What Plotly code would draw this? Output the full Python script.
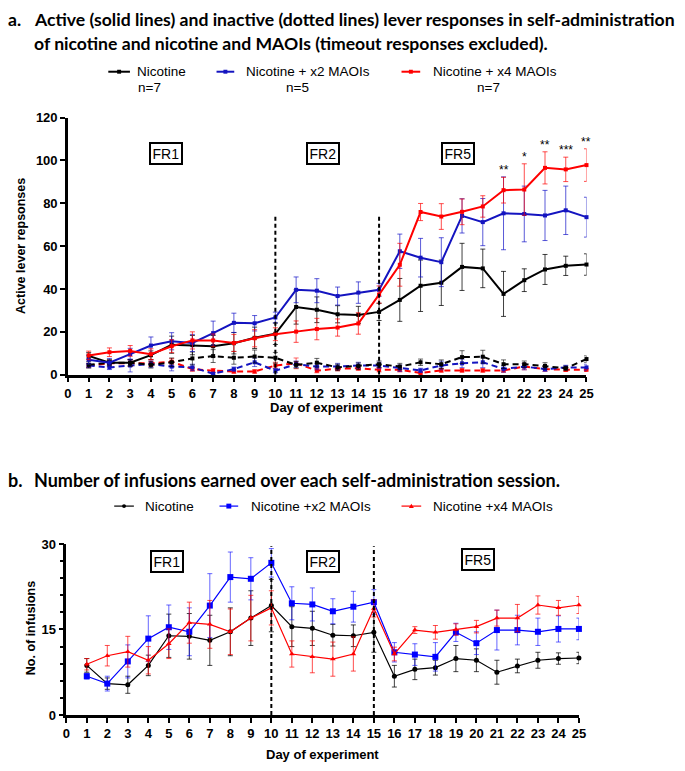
import plotly.graph_objects as go

# ---------------- data ----------------
days = list(range(1, 26))
series_names = ["Nicotine", "Nicotine + x2 MAOIs", "Nicotine + x4 MAOIs"]
series_n = ["n=7", "n=5", "n=7"]
series_names_b = ["Nicotine", "Nicotine +x2 MAOIs", "Nicotine +x4 MAOIs"]

# Panel a: active lever responses (mean, SEM)
a_nic_active = [8.8, 5.6, 5.6, 9.1, 14.0, 13.8, 13.3, 14.7, 17.2, 19.1, 31.6, 30.3, 28.2, 27.9, 29.3,
                34.9, 41.5, 42.9, 50.3, 49.6, 37.7, 44.1, 49.1, 50.8, 51.4]
a_nic_active_err = [1.5, 1.0, 1.5, 2.0, 4.0, 4.5, 5.0, 5.0, 5.0, 5.0, 8.0, 6.0, 4.0, 4.0, 4.0,
                    10.0, 12.0, 10.6, 11.0, 9.0, 10.5, 5.3, 7.0, 4.5, 5.0]
a_x2_active = [7.0, 5.6, 9.6, 13.6, 15.6, 14.8, 19.4, 24.2, 24.0, 26.7, 39.6, 39.2, 36.7, 38.3, 39.6,
               57.6, 54.6, 52.5, 74.1, 71.2, 75.3, 75.0, 74.3, 76.7, 73.5]
a_x2_active_err = [2.0, 2.0, 2.7, 4.0, 4.0, 4.0, 5.6, 4.5, 3.6, 2.5, 6.0, 5.6, 4.2, 5.0, 3.0,
                   8.0, 9.0, 11.4, 8.0, 11.0, 17.0, 13.0, 11.7, 11.3, 9.3]
a_x4_active = [9.0, 10.5, 11.1, 9.6, 13.3, 16.0, 16.0, 14.8, 17.0, 18.9, 20.1, 21.3, 22.0, 23.9, 37.4,
               51.3, 75.9, 73.8, 76.0, 78.5, 86.1, 86.4, 96.5, 95.8, 97.8]
a_x4_active_err = [2.0, 2.0, 2.5, 2.5, 3.0, 4.0, 3.0, 4.0, 4.0, 3.0, 5.0, 5.0, 4.0, 5.0, 4.0,
                   10.0, 4.0, 6.0, 6.0, 5.0, 6.0, 12.0, 7.5, 5.7, 7.6]

# Panel a: inactive lever responses (mean, SEM)
a_nic_inactive = [4.6, 5.6, 5.6, 4.6, 5.8, 7.6, 8.7, 7.9, 8.5, 7.9, 4.6, 5.6, 3.4, 4.0, 4.9,
                  3.8, 5.8, 4.9, 8.2, 8.4, 4.9, 4.9, 4.1, 3.0, 7.3]
a_nic_inactive_err = [1.5, 1.5, 1.5, 1.5, 2.0, 3.0, 3.0, 3.0, 3.0, 2.5, 1.5, 2.0, 1.5, 1.5, 1.5,
                      1.5, 1.5, 2.0, 3.0, 3.0, 2.0, 1.5, 1.5, 1.0, 1.5]
a_x2_inactive = [4.3, 3.4, 4.3, 4.9, 3.8, 3.4, 0.5, 2.6, 5.8, 1.9, 4.9, 3.8, 3.8, 4.3, 4.3,
                 3.0, 2.0, 4.3, 5.3, 5.8, 2.7, 3.8, 2.6, 3.4, 3.4]
a_x2_inactive_err = [1.0, 1.0, 3.0, 1.5, 2.0, 1.5, 0.5, 1.0, 2.0, 1.0, 1.5, 1.5, 1.5, 1.5, 1.5,
                     1.5, 1.0, 2.0, 2.0, 2.5, 1.5, 1.5, 1.0, 1.0, 1.5]
a_x4_inactive = [4.3, 5.3, 5.3, 5.3, 6.1, 2.6, 1.9, 1.5, 1.5, 4.3, 5.3, 1.9, 2.8, 3.0, 2.3,
                 2.3, 0.8, 2.0, 2.0, 2.0, 2.0, 3.8, 2.6, 2.3, 2.3]
a_x4_inactive_err = [1.0, 1.5, 1.5, 1.5, 1.5, 1.0, 1.0, 0.8, 0.8, 1.5, 2.5, 1.0, 1.0, 1.0, 1.0,
                     1.0, 0.5, 0.8, 0.8, 0.8, 0.8, 1.5, 1.0, 0.8, 0.8]

# significance markers (panel a, over the x4 group)
star_days = [21, 22, 23, 24, 25]
star_text = ["**", "*", "**", "***", "**"]

# Panel b: infusions earned (mean, SEM)
b_nic = [8.7, 5.5, 5.3, 8.7, 13.9, 13.8, 13.1, 14.6, 17.0, 19.2, 15.5, 15.2, 14.0, 13.9, 14.5,
         6.8, 8.0, 8.3, 9.9, 9.6, 7.5, 8.6, 9.6, 9.9, 10.0]
b_nic_err = [1.2, 1.0, 1.5, 1.8, 3.8, 4.0, 4.4, 4.2, 4.8, 4.6, 3.5, 3.0, 1.9, 1.9, 3.5,
             1.9, 1.8, 1.3, 2.3, 2.0, 2.1, 1.2, 1.4, 1.0, 1.0]
b_x2 = [6.8, 5.5, 9.4, 13.4, 15.4, 14.6, 19.2, 24.2, 23.9, 26.7, 19.6, 19.4, 18.2, 19.0, 19.8,
        11.0, 10.6, 10.2, 14.5, 12.6, 14.9, 14.9, 14.6, 15.1, 15.1]
b_x2_err = [0.5, 1.3, 2.9, 4.0, 3.9, 4.2, 5.6, 4.4, 3.7, 2.5, 2.9, 2.9, 2.2, 2.7, 2.2,
            1.7, 1.9, 2.5, 1.6, 2.0, 3.5, 2.6, 2.4, 2.3, 1.9]
b_x4 = [8.9, 10.4, 11.1, 9.6, 12.5, 16.2, 15.9, 14.6, 17.0, 18.8, 10.7, 10.2, 9.8, 10.7, 18.7,
        10.7, 14.9, 14.5, 15.0, 15.5, 17.0, 17.0, 19.3, 18.8, 19.3]
b_x4_err = [1.0, 1.8, 2.7, 2.4, 2.6, 3.6, 4.2, 4.0, 4.0, 3.0, 2.3, 2.8, 3.0, 3.0, 1.5,
            1.2, 0.6, 1.2, 1.0, 1.1, 1.4, 2.4, 1.6, 1.3, 1.5]

phase_days = [10, 15]
phase_labels = ["FR1", "FR2", "FR5"]
a_x_ticks = list(range(0, 26))
a_y_ticks = [0, 20, 40, 60, 80, 100, 120]
b_y_ticks = [0, 15, 30]

# ---------------- styling ----------------
W, H = 685, 771
def px(x):
    return x / W
def py(y):
    return 1 - y / H

BLACK = "#000000"
BLUE_A = "#1414c0"
RED = "#ff0000"
BLUE_B = "#0000ff"
TICKFONT = dict(family="Liberation Sans", size=13, color="black", weight="bold")

fig = go.Figure()

def add_series(y, err, color, xa, ya, dash="solid", width=2.0, symbol="square", msize=4, ecolor=None):
    fig.add_trace(go.Scatter(
        x=days, y=y, mode="lines+markers", xaxis=xa, yaxis=ya,
        line=dict(color=color, width=width, dash=dash),
        marker=dict(color=color, size=msize, symbol=symbol, line=dict(width=0)),
        error_y=dict(type="data", array=err, visible=True, color=ecolor or color,
                     thickness=1, width=2.5),
        showlegend=False, cliponaxis=False, hoverinfo="skip"))

# panel a inactive (dashed)
DASH = "6px,4px"
add_series(a_x4_inactive, a_x4_inactive_err, RED, "x", "y", dash=DASH, ecolor="rgba(255,0,0,0.6)")
add_series(a_x2_inactive, a_x2_inactive_err, BLUE_A, "x", "y", dash=DASH, ecolor="rgba(20,20,200,0.6)")
add_series(a_nic_inactive, a_nic_inactive_err, BLACK, "x", "y", dash=DASH, ecolor="rgba(0,0,0,0.6)")
# panel a active (solid)
add_series(a_nic_active, a_nic_active_err, BLACK, "x", "y", ecolor="rgba(0,0,0,0.75)")
add_series(a_x2_active, a_x2_active_err, BLUE_A, "x", "y", ecolor="rgba(20,20,200,0.7)")
add_series(a_x4_active, a_x4_active_err, RED, "x", "y", ecolor="rgba(255,0,0,0.7)")

# panel b
add_series(b_nic, b_nic_err, BLACK, "x2", "y2", width=1.2, symbol="circle", msize=5, ecolor="rgba(0,0,0,0.75)")
add_series(b_x2, b_x2_err, BLUE_B, "x2", "y2", width=1.2, symbol="square", msize=6, ecolor="rgba(0,0,255,0.6)")
add_series(b_x4, b_x4_err, RED, "x2", "y2", width=1.2, symbol="triangle-up", msize=5, ecolor="rgba(255,0,0,0.7)")

axis_common = dict(showgrid=False, zeroline=False, showline=True, linecolor="black", linewidth=2.5,
                   ticks="outside", ticklen=5, tickwidth=2, tickcolor="black", tickfont=TICKFONT,
                   fixedrange=True)

fig.update_layout(
    width=W, height=H, autosize=False,
    margin=dict(l=0, r=0, t=0, b=0),
    paper_bgcolor="white", plot_bgcolor="white",
    showlegend=False,
    xaxis=dict(domain=[px(65), px(592)], range=[0, 25], anchor="y",
               tickmode="array", tickvals=a_x_ticks, **axis_common),
    yaxis=dict(domain=[py(375), py(112.7)], range=[0, 120], anchor="x",
               tickmode="array", tickvals=a_y_ticks, **axis_common),
    xaxis2=dict(domain=[px(63.3), px(584.3)], range=[0, 25], anchor="y2",
                tickmode="array", tickvals=a_x_ticks, **axis_common),
    yaxis2=dict(domain=[py(722), py(547.7)], range=[0, 30], anchor="x2",
                tickmode="array", tickvals=b_y_ticks,
                minor=dict(dtick=3, ticks="outside", ticklen=4, tickwidth=1.5, tickcolor="black"),
                **axis_common),
)

shapes = []
# phase change dashed lines
for d in phase_days:
    shapes.append(dict(type="line", xref="x", yref="y", x0=d, x1=d, y0=0, y1=74,
                       line=dict(color="black", width=2, dash="4px,3px")))
    shapes.append(dict(type="line", xref="x2", yref="y2", x0=d, x1=d, y0=0, y1=29.6,
                       line=dict(color="black", width=2, dash="4px,3px")))

annotations = []
def txt(x, y, text, size=13, bold=False, xanchor="center", family="Liberation Sans", angle=0, color="black"):
    annotations.append(dict(x=px(x), y=py(y), xref="paper", yref="paper", text=text, showarrow=False,
                            xanchor=xanchor, yanchor="middle", textangle=angle,
                            font=dict(family=family, size=size, color=color,
                                      weight="bold" if bold else "normal")))

# titles
TF = "Lato"
txt(2, 13, "a.", size=17.6, bold=True, xanchor="left", family=TF)
txt(28, 13, "Active (solid lines) and inactive (dotted lines) lever responses in self-administration",
    size=17.6, bold=True, xanchor="left", family=TF)
txt(28, 37, "of nicotine and nicotine and MAOIs (timeout responses excluded).", size=17.6, bold=True,
    xanchor="left", family=TF)
txt(2, 482, "b.", size=18, bold=True, xanchor="left", family=TF)
txt(28, 482, "Number of infusions earned over each self-administration session.", size=18, bold=True,
    xanchor="left", family=TF)

# legend panel a
leg_a = [(106, 128, 133, BLACK), (216, 234, 244, BLUE_A), (404, 423, 434, RED)]
n_centers = [148, 298, 492]
for (g0, g1, tx, col), name, n, nc in zip(leg_a, series_names, series_n, n_centers):
    shapes.append(dict(type="line", xref="paper", yref="paper", x0=px(g0), x1=px(g1), y0=py(66), y1=py(66),
                       line=dict(color=col, width=2)))
    gm = (g0 + g1) / 2
    shapes.append(dict(type="rect", xref="paper", yref="paper", x0=px(gm - 2), x1=px(gm + 2),
                       y0=py(68), y1=py(64), fillcolor=col, line=dict(width=0)))
    txt(tx, 66, name, size=13.5, xanchor="left")
    txt(nc, 82, n, size=13.5)

# legend panel b
leg_b = [(112, 132, 141, BLACK, "circle"), (219, 238, 249, BLUE_B, "square"), (404, 424, 434, RED, "tri")]
for (g0, g1, tx, col, sym), name in zip(leg_b, series_names_b):
    shapes.append(dict(type="line", xref="paper", yref="paper", x0=px(g0), x1=px(g1), y0=py(509), y1=py(509),
                       line=dict(color=col, width=1.2)))
    gm = (g0 + g1) / 2
    if sym == "circle":
        shapes.append(dict(type="circle", xref="paper", yref="paper", x0=px(gm - 2), x1=px(gm + 2),
                           y0=py(511), y1=py(507), fillcolor=col, line=dict(width=0)))
    elif sym == "square":
        shapes.append(dict(type="rect", xref="paper", yref="paper", x0=px(gm - 2.5), x1=px(gm + 2.5),
                           y0=py(511.5), y1=py(506.5), fillcolor=col, line=dict(width=0)))
    else:
        path = "M {} {} L {} {} L {} {} Z".format(px(gm - 2.5), py(511), px(gm + 2.5), py(511), px(gm), py(506.5))
        shapes.append(dict(type="path", xref="paper", yref="paper", path=path, fillcolor=col,
                           line=dict(width=0)))
    txt(tx, 509, name, size=13.5, xanchor="left")

# axis titles
txt(18, 244, "Active lever repsonses", size=12.5, bold=True, angle=-90)
txt(328, 408, "Day of experiment", size=13, bold=True)
txt(27, 634, "No. of infusions", size=12.5, bold=True, angle=-90)
txt(324, 762, "Day of experiment", size=13, bold=True)

# phase boxes
phase_pos_a = [(4.75, 103), (12.3, 103), (18.8, 103)]
phase_pos_b = [(4.93, 27.0), (12.5, 27.0), (20.1, 27.3)]
for (x, y), lab in zip(phase_pos_a, phase_labels):
    annotations.append(dict(x=x, y=y, xref="x", yref="y", text=lab, showarrow=False,
                            font=dict(family="Liberation Sans", size=14, color="black"),
                            bordercolor="black", borderwidth=2, borderpad=1.5, bgcolor="white"))
for (x, y), lab in zip(phase_pos_b, phase_labels):
    annotations.append(dict(x=x, y=y, xref="x2", yref="y2", text=lab, showarrow=False,
                            font=dict(family="Liberation Sans", size=14, color="black"),
                            bordercolor="black", borderwidth=2, borderpad=1.5, bgcolor="white"))

# significance stars above x4 error bars
for d, s in zip(star_days, star_text):
    i = days.index(d)
    annotations.append(dict(x=d, y=a_x4_active[i] + a_x4_active_err[i], xref="x", yref="y", text=s,
                            showarrow=False, yanchor="bottom", yshift=-2,
                            font=dict(family="Liberation Sans", size=12, color="black")))

fig.update_layout(shapes=shapes, annotations=annotations)
fig.write_html("out.html")
